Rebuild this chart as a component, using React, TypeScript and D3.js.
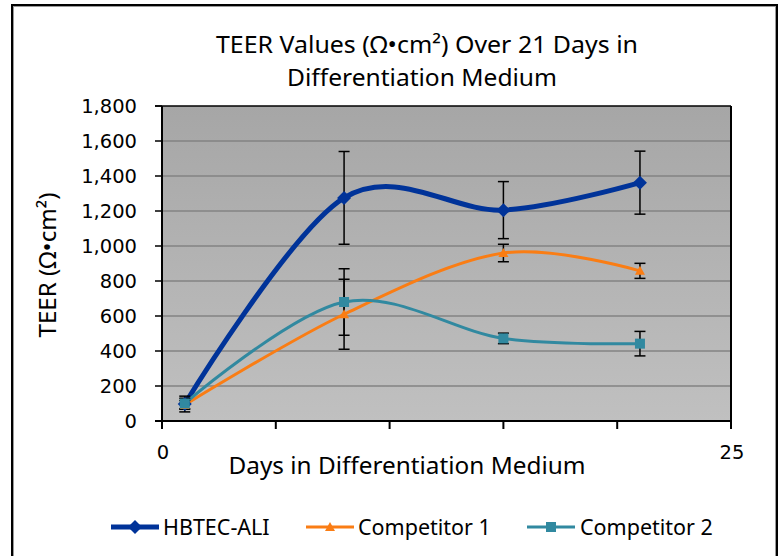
import React from "react";
import * as d3 from "d3";

const days = [1, 8, 15, 21];
const hbtec = [97, 1275, 1205, 1362];
const hbtecErr = [45, 265, 163, 180];
const comp1 = [92, 610, 960, 858];
const comp1Err = [25, 200, 50, 43];
const comp2 = [100, 680, 472, 442];
const comp2Err = [30, 190, 30, 70];
const yTicks = [0, 200, 400, 600, 800, 1000, 1200, 1400, 1600, 1800];
const xTicks = [0, 5, 10, 15, 20, 25];
const xLabels = [0, 25];
const seriesNames = ["HBTEC-ALI", "Competitor 1", "Competitor 2"];

const BLUE = "#003399";
const ORANGE = "#fa7d14";
const TEAL = "#3189a0";

export default function App() {
  const x = d3.scaleLinear().domain([0, 25]).range([162, 731]);
  const y = d3.scaleLinear().domain([0, 1800]).range([421, 106]);
  const line = d3
    .line<[number, number]>()
    .x((d) => x(d[0]))
    .y((d) => y(d[1]))
    .curve(d3.curveCardinal.tension(0));

  const series = [
    { name: seriesNames[0], vals: hbtec, err: hbtecErr, color: BLUE, width: 5, marker: "diamond" },
    { name: seriesNames[1], vals: comp1, err: comp1Err, color: ORANGE, width: 3, marker: "triangle" },
    { name: seriesNames[2], vals: comp2, err: comp2Err, color: TEAL, width: 3, marker: "square" },
  ];

  const marker = (type: string, cx: number, cy: number, color: string, key: string) => {
    if (type === "diamond") {
      const s = 7;
      return <path key={key} d={`M${cx},${cy - s}L${cx + s},${cy}L${cx},${cy + s}L${cx - s},${cy}Z`} fill={color} />;
    }
    if (type === "triangle") {
      const s = 5;
      return <path key={key} d={`M${cx},${cy - s}L${cx + s},${cy + s * 0.8}L${cx - s},${cy + s * 0.8}Z`} fill={color} />;
    }
    const s = 5;
    return <rect key={key} x={cx - s} y={cy - s} width={2 * s} height={2 * s} fill={color} />;
  };

  const font = "'Noto Sans', 'Open Sans', sans-serif";
  const tickFont = "'DejaVu Sans', sans-serif";

  return (
    <svg width={780} height={556} style={{ position: "absolute", left: 0, top: 0 }}>
      <defs>
        <linearGradient id="bg" x1="0" y1="0" x2="0" y2="1">
          <stop offset="0" stopColor="#a6a6a6" />
          <stop offset="1" stopColor="#c0c0c0" />
        </linearGradient>
      </defs>
      <rect x={0} y={0} width={780} height={556} fill="#ffffff" />
      <rect x={12} y={5} width={765} height={620} fill="none" stroke="#000" strokeWidth={2} />
      <rect x={13.5} y={6.5} width={762} height={620} fill="none" stroke="#9a9a9a" strokeWidth={1} />

      <text x={427} y={53} textAnchor="middle" fontFamily={font} fontSize={24} textLength={422} lengthAdjust="spacingAndGlyphs">
        TEER Values (Ω•cm²) Over 21 Days in
      </text>
      <text x={422} y={86} textAnchor="middle" fontFamily={font} fontSize={24} textLength={270} lengthAdjust="spacingAndGlyphs">
        Differentiation Medium
      </text>

      <rect x={162} y={106} width={569} height={315} fill="url(#bg)" />
      {yTicks.slice(1, -1).map((t) => (
        <line key={t} x1={162} x2={731} y1={y(t)} y2={y(t)} stroke="#838383" strokeWidth={1.5} />
      ))}
      <line x1={155} x2={731} y1={y(1800)} y2={y(1800)} stroke="#000" strokeWidth={1.5} />
      <line x1={731} x2={731} y1={y(1800)} y2={y(0)} stroke="#000" strokeWidth={2} />
      <line x1={162} x2={162} y1={y(1800)} y2={y(0)} stroke="#000" strokeWidth={2} />
      <line x1={155} x2={732} y1={y(0)} y2={y(0)} stroke="#000" strokeWidth={2} />
      {yTicks.map((t) => (
        <g key={t}>
          <line x1={155} x2={162} y1={y(t)} y2={y(t)} stroke="#000" strokeWidth={1.5} />
          <text x={137} y={y(t)} dy="0.36em" textAnchor="end" fontFamily={tickFont} fontSize={19.5}>
            {d3.format(",")(t)}
          </text>
        </g>
      ))}
      {xTicks.map((t) => (
        <line key={t} x1={x(t)} x2={x(t)} y1={y(0)} y2={y(0) + 8} stroke="#000" strokeWidth={2} />
      ))}
      {xLabels.map((t) => (
        <text key={t} x={x(t) + 1} y={452} dy="0.36em" textAnchor="middle" fontFamily={tickFont} fontSize={19.5}>
          {t}
        </text>
      ))}
      <text x={407} y={474} textAnchor="middle" fontFamily={font} fontSize={24} textLength={357} lengthAdjust="spacingAndGlyphs">
        Days in Differentiation Medium
      </text>
      <text transform="translate(56,265) rotate(-90)" textAnchor="middle" fontFamily={font} fontSize={23} textLength={145} lengthAdjust="spacingAndGlyphs">
        TEER (Ω•cm²)
      </text>

      {series.map((s) => (
        <path
          key={s.name}
          d={line(days.map((d, i) => [d, s.vals[i]] as [number, number])) || ""}
          fill="none"
          stroke={s.color}
          strokeWidth={s.width}
          strokeLinecap="round"
        />
      ))}
      {series.map((s) =>
        days.map((d, i) => {
          const cx = x(d);
          const y1 = y(s.vals[i] + s.err[i]);
          const y2 = y(s.vals[i] - s.err[i]);
          return (
            <g key={s.name + d} stroke="#000" strokeWidth={1.5}>
              <line x1={cx} x2={cx} y1={y1} y2={y2} />
              <line x1={cx - 5.5} x2={cx + 5.5} y1={y1} y2={y1} />
              <line x1={cx - 5.5} x2={cx + 5.5} y1={y2} y2={y2} />
            </g>
          );
        })
      )}
      {series.map((s) => days.map((d, i) => marker(s.marker, x(d), y(s.vals[i]), s.color, s.name + "m" + d)))}

      {series.map((s, i) => {
        const lx = [111, 306, 527][i];
        const tx = [163, 358, 580][i];
        const ly = 527;
        return (
          <g key={s.name}>
            <line x1={lx} x2={lx + 48} y1={ly} y2={ly} stroke={s.color} strokeWidth={s.width} />
            {marker(s.marker, lx + 24, ly, s.color, "lg" + i)}
            <text x={tx} y={ly} dy="0.36em" fontFamily={font} fontSize={21.5}>
              {s.name}
            </text>
          </g>
        );
      })}
    </svg>
  );
}
